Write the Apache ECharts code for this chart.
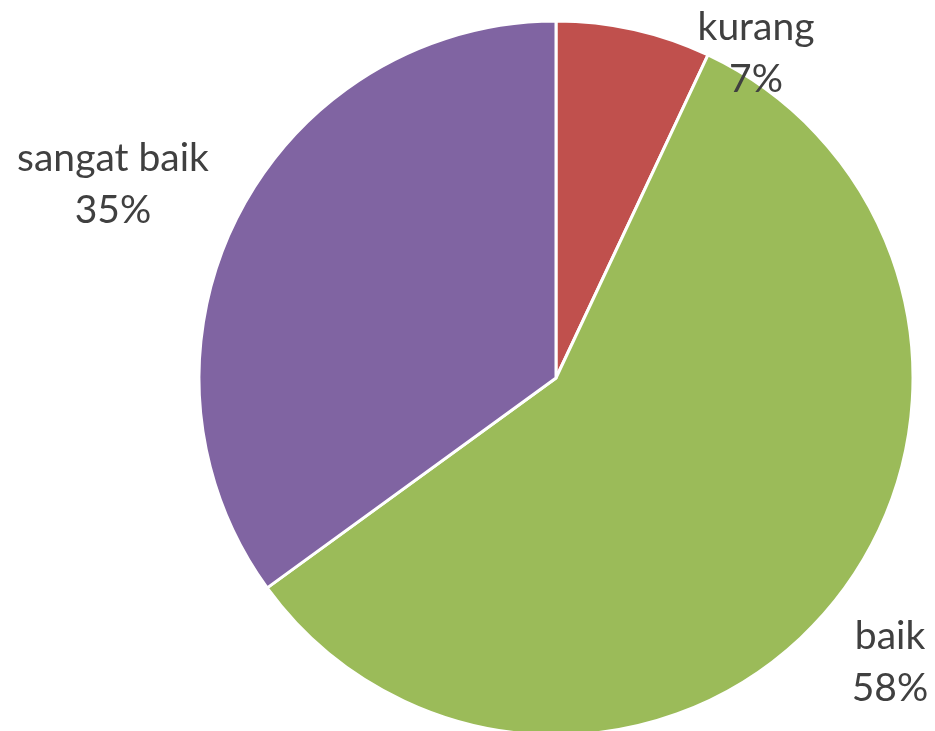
<!DOCTYPE html>
<html>
<head>
<meta charset="utf-8">
<script src="https://cdn.jsdelivr.net/npm/echarts@6/dist/echarts.min.js"></script>
<style>html,body{margin:0;padding:0;background:#fff}#c{width:935px;height:731px}</style>
</head>
<body>
<div id="c"></div>
<script>
const categories = ['kurang', 'baik', 'sangat baik'];
const values = [7, 58, 35];
const colors = ['#C0504D', '#9BBB59', '#8064A2'];
const labelPos = [[756, 53], [890, 662], [113, 184]];

const chart = echarts.init(document.getElementById('c'));
chart.setOption({
  animation: false,
  series: [{
    type: 'pie',
    center: [556, 378],
    radius: 357,
    startAngle: 90,
    clockwise: true,
    itemStyle: { borderColor: '#fff', borderWidth: 3 },
    label: {
      show: true,
      position: 'inside',
      formatter: '{b}\n{d}%',
      fontFamily: 'Lato',
      fontSize: 39,
      lineHeight: 52,
      color: '#404040',
      align: 'center',
      overflow: 'none'
    },
    labelLine: { show: false },
    labelLayout: function (p) {
      const pos = labelPos[p.dataIndex];
      return { x: pos[0], y: pos[1], align: 'center', verticalAlign: 'middle' };
    },
    emphasis: { disabled: true },
    data: categories.map((c, i) => ({ name: c, value: values[i], itemStyle: { color: colors[i] } }))
  }]
});
</script>
</body>
</html>
